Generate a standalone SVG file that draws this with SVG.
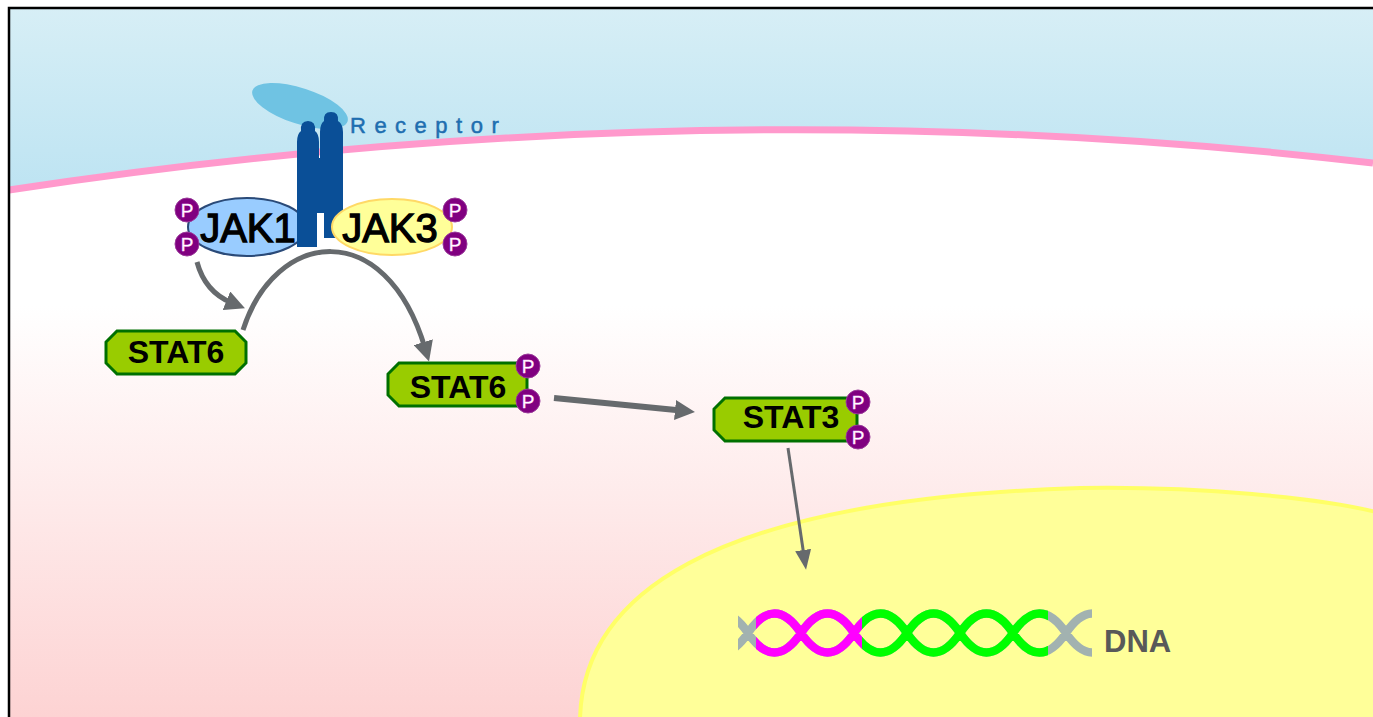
<svg xmlns="http://www.w3.org/2000/svg" width="1373" height="717" viewBox="0 0 1373 717">
  <defs>
    <style>
      .jak-text { font-family: "Liberation Sans", Arial, sans-serif; font-size: 40px; fill: #000; text-anchor: middle; stroke: #000; stroke-width: 1.3; }
      .stat { fill: #99cc00; stroke: #007000; stroke-width: 3; stroke-linejoin: miter; }
      .stat-text { font-family: "Liberation Sans", Arial, sans-serif; font-size: 32px; font-weight: bold; fill: #000; text-anchor: middle; }
      .phos { fill: #800080; stroke: #9a3a9a; stroke-width: 1; }
      .phos-text { font-family: "Liberation Sans", Arial, sans-serif; font-size: 19px; fill: #ffffff; text-anchor: middle; stroke: #ffd0ff; stroke-width: 0.4; }
      .conn { fill: none; stroke: #666a6d; stroke-linecap: butt; }
      .helix { fill: none; stroke-width: 8.5; stroke-linecap: butt; }
    </style>
    <linearGradient id="sky" x1="0" y1="0" x2="0" y2="200" gradientUnits="userSpaceOnUse">
      <stop offset="0" stop-color="#d8eff6"/>
      <stop offset="1" stop-color="#bce3f2"/>
    </linearGradient>
    <linearGradient id="cyto" x1="0" y1="130" x2="0" y2="717" gradientUnits="userSpaceOnUse">
      <stop offset="0" stop-color="#ffffff"/>
      <stop offset="0.3" stop-color="#ffffff"/>
      <stop offset="1" stop-color="#fdd3d3"/>
    </linearGradient>
    <marker id="head" markerUnits="userSpaceOnUse" viewBox="0 0 20 20" markerWidth="20" markerHeight="20" refX="6" refY="10" orient="auto">
      <path d="M0,0 L20,10 L0,20 z" fill="#666a6d"/>
    </marker>
    <marker id="head-thin" markerUnits="userSpaceOnUse" viewBox="0 0 20 16" markerWidth="20" markerHeight="16" refX="6" refY="8" orient="auto">
      <path d="M0,0 L20,8 L0,16 z" fill="#666a6d"/>
    </marker>
    <clipPath id="clip-dna"><rect x="738" y="590" width="354" height="90"/></clipPath>
    <clipPath id="clip-magenta"><rect x="756" y="590" width="106" height="90"/></clipPath>
    <clipPath id="clip-green"><rect x="862" y="590" width="186" height="90"/></clipPath>
    <path id="helix-strands" d="M695 633 C712.5 607 730.5 607 748 633 C765.5 659 783.5 659 801 633 C818.5 607 836.5 607 854 633 C871.5 659 889.5 659 907 633 C924.5 607 942.5 607 960 633 C977.5 659 995.5 659 1013 633 C1030.5 607 1048.5 607 1066 633 C1083.5 659 1101.5 659 1119 633 M695 633 C712.5 659 730.5 659 748 633 C765.5 607 783.5 607 801 633 C818.5 659 836.5 659 854 633 C871.5 607 889.5 607 907 633 C924.5 659 942.5 659 960 633 C977.5 607 995.5 607 1013 633 C1030.5 659 1048.5 659 1066 633 C1083.5 607 1101.5 607 1119 633"/>
  </defs>

  <!-- background: extracellular space, cytoplasm, frame -->
  <rect x="0" y="0" width="1373" height="717" fill="#ffffff"/>
  <rect x="9" y="8" width="1364" height="709" fill="url(#sky)"/>
  <path d="M9 190 Q700 85 1373 163 L1373 717 L9 717 Z" fill="url(#cyto)"/>
  <path d="M9 190 Q700 85 1373 163" fill="none" stroke="#ff99cc" stroke-width="7"/>
  <path d="M9 717 L9 8 L1373 8" fill="none" stroke="#000" stroke-width="2.5"/>

  <!-- nucleus -->
  <path id="nucleus" d="M580 720 C582 600 700 500 1080 488 C1200 486 1320 498 1376 512 L1376 720 Z" fill="#ffff99" stroke="#ffff66" stroke-width="4"/>

  <!-- connectors -->
  <g id="connectors">
    <path class="conn" d="M197 262 Q205 292 232 303" stroke-width="5" marker-end="url(#head)"/>
    <path class="conn" d="M243 330 C275 230 385 215 425 348" stroke-width="5" marker-end="url(#head)"/>
    <path class="conn" d="M554 398 L681 410.6" stroke-width="6" marker-end="url(#head)"/>
    <path class="conn" d="M788 448 L804 556" stroke-width="3" marker-end="url(#head-thin)"/>
  </g>

  <!-- JAK1 -->
  <g id="jak1">
    <ellipse cx="247" cy="227" rx="59" ry="29" fill="#99ccff" stroke="#2a4a78" stroke-width="2"/>
    <text class="jak-text" x="248" y="242">JAK1</text>
    <circle class="phos" cx="187" cy="210" r="12"/>
    <text class="phos-text" x="187" y="217">P</text>
    <circle class="phos" cx="187" cy="244" r="12"/>
    <text class="phos-text" x="187" y="251">P</text>
  </g>

  <!-- receptor -->
  <g id="receptor">
    <ellipse cx="300" cy="106" rx="50" ry="18" transform="rotate(18 300 106)" fill="#6fc3e3"/>
    <path d="M297 247 L297 142 Q297 134 301 131 Q300 121 308 121 Q316 121 315 131 Q319 134 319 142 L319 158 L320 158 L320 132 Q320 124 324 121 Q323 112 331 112 Q339 112 338 121 Q343 124 343 132 L343 238 L324 238 L324 213 L317 213 L317 247 Z" fill="#0a4f97"/>
    <text x="350" y="133" font-family="'Liberation Sans', Arial, sans-serif" font-size="22" letter-spacing="8.5" fill="#1e6eb0" stroke="#1e6eb0" stroke-width="0.5">Receptor</text>
  </g>

  <!-- JAK3 -->
  <g id="jak3">
    <ellipse cx="392" cy="227" rx="60" ry="28" fill="#ffff99" stroke="#ffd966" stroke-width="2"/>
    <text class="jak-text" x="390" y="242">JAK3</text>
    <circle class="phos" cx="455" cy="210" r="12"/>
    <text class="phos-text" x="455" y="217">P</text>
    <circle class="phos" cx="455" cy="244" r="12"/>
    <text class="phos-text" x="455" y="251">P</text>
  </g>

  <!-- STAT6 (unphosphorylated) -->
  <g id="stat6">
    <path class="stat" d="M117 331 L235 331 L246 342 L246 363 L235 374 L117 374 L106 363 L106 342 Z"/>
    <text class="stat-text" x="176" y="363">STAT6</text>
  </g>

  <!-- STAT6 (phosphorylated) -->
  <g id="stat6-p">
    <path class="stat" d="M399 363 L527 363 L527 406 L399 406 L388 395 L388 374 Z"/>
    <text class="stat-text" x="458" y="398">STAT6</text>
    <circle class="phos" cx="528" cy="366" r="12"/>
    <text class="phos-text" x="528" y="373">P</text>
    <circle class="phos" cx="528" cy="401" r="12"/>
    <text class="phos-text" x="528" y="408">P</text>
  </g>

  <!-- STAT3 (phosphorylated) -->
  <g id="stat3-p">
    <path class="stat" d="M725 398 L857 398 L857 441 L725 441 L714 430 L714 409 Z"/>
    <text class="stat-text" x="791" y="428">STAT3</text>
    <circle class="phos" cx="858" cy="402" r="12"/>
    <text class="phos-text" x="858" y="409">P</text>
    <circle class="phos" cx="858" cy="437" r="12"/>
    <text class="phos-text" x="858" y="444">P</text>
  </g>

  <!-- DNA double helix -->
  <g id="dna">
    <use href="#helix-strands" class="helix" stroke="#a2b2b0" clip-path="url(#clip-dna)"/>
    <use href="#helix-strands" class="helix" stroke="#ff00ff" clip-path="url(#clip-magenta)"/>
    <use href="#helix-strands" class="helix" stroke="#00ff00" clip-path="url(#clip-green)"/>
    <text x="1104" y="652" font-family="'Liberation Sans', Arial, sans-serif" font-size="31" font-weight="bold" fill="#595959">DNA</text>
  </g>
</svg>
